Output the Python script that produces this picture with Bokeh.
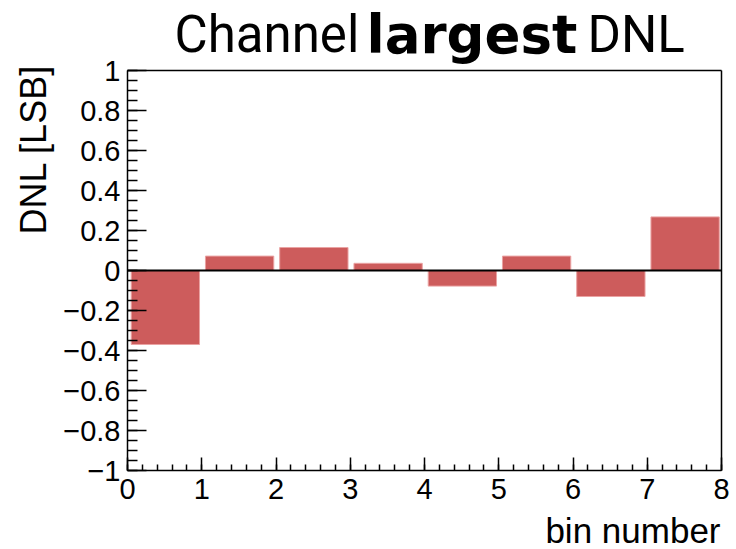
import numpy as np
from bokeh.plotting import figure
from bokeh.models import (Range1d, SingleIntervalTicker, FixedTicker, CustomJSTickFormatter,
                          Label, ColumnDataSource, LinearAxis)
from bokeh.embed import file_html
from bokeh.resources import INLINE

# ---- data ----
bins = [0, 1, 2, 3, 4, 5, 6, 7]
dnl = [-0.37, 0.072, 0.115, 0.036, -0.078, 0.072, -0.13, 0.268]
x_tick_labels = ["0", "1", "2", "3", "4", "5", "6", "7", "8"]
title_parts = ["Channel", "largest", "DNL"]
y_title = "DNL [LSB]"
x_title = "bin number"

x_lo, x_hi = 0, 8
y_lo, y_hi = -1, 1

bar_offset = 0.05
bar_width = 0.92

# pixel geometry of the visible plot box inside the 736x549 canvas
W, H = 736, 549
FL, FR, FT, FB = 127, 721, 70, 470
sx = (FR - FL) / (x_hi - x_lo)
sy = (FB - FT) / (y_hi - y_lo)

src = ColumnDataSource(dict(
    left=[b + bar_offset for b in bins],
    right=[b + bar_offset + bar_width for b in bins],
    top=[max(v, 0) for v in dnl],
    bottom=[min(v, 0) for v in dnl],
))

p = figure(width=W, height=H, output_backend="svg", toolbar_location=None,
           x_range=Range1d(x_lo - FL / sx, x_hi + (W - FR) / sx),
           y_range=Range1d(y_lo - (H - FB) / sy, y_hi + FT / sy),
           x_axis_location=None, y_axis_location=None,
           min_border_left=0, min_border_right=0,
           min_border_top=0, min_border_bottom=0)
p.background_fill_color = "white"
p.border_fill_color = "white"
p.outline_line_color = None
p.grid.visible = False

p.quad(left="left", right="right", top="top", bottom="bottom", source=src,
       fill_color="#cd5c5c", line_color="#eaa3a3", line_width=1)

y_fmt = CustomJSTickFormatter(code="""
if (Math.abs(tick) < 1e-9) return "0";
var s = String(Math.round(tick*10)/10);
return s.replace("-", "\u2212");
""")
x_fmt = CustomJSTickFormatter(args=dict(labels=x_tick_labels),
                              code="var i = Math.round(tick); return (i >= 0 && i < labels.length) ? labels[i] : String(i);")


def style(ax, lw=1.5):
    ax.axis_line_color = "black"
    ax.axis_line_width = lw
    ax.major_tick_line_color = "black"
    ax.minor_tick_line_color = "black"
    ax.major_tick_line_width = 1.5
    ax.minor_tick_line_width = 1.5
    ax.major_tick_out = 0
    ax.minor_tick_out = 0
    ax.major_label_text_font = "Liberation Sans"
    ax.major_label_text_font_size = "29px"
    ax.major_label_text_color = "black"


yaxis = LinearAxis(fixed_location=x_lo, bounds=(y_lo, y_hi),
                   ticker=SingleIntervalTicker(interval=0.2, num_minor_ticks=4),
                   formatter=y_fmt)
style(yaxis)
yaxis.major_tick_in = 19
yaxis.minor_tick_in = 10
yaxis.major_label_standoff = 7
p.add_layout(yaxis, "left")

xaxis = LinearAxis(fixed_location=y_lo, bounds=(x_lo, x_hi),
                   ticker=SingleIntervalTicker(interval=1, num_minor_ticks=5),
                   formatter=x_fmt)
style(xaxis)
xaxis.major_tick_in = 13
xaxis.minor_tick_in = 6
xaxis.major_label_standoff = 8
p.add_layout(xaxis, "below")

# frame borders (top/right) and zero line as plain axes without ticks
for loc, place, bnds, lw in [(y_hi, "above", (x_lo, x_hi), 1.5),
                             (x_hi, "right", (y_lo, y_hi), 1.5),
                             (0, "below", (x_lo, x_hi), 2)]:
    ax = LinearAxis(fixed_location=loc, bounds=bnds, ticker=FixedTicker(ticks=[]))
    ax.axis_line_color = "black"
    ax.axis_line_width = lw
    ax.major_tick_in = 0
    ax.major_tick_out = 0
    ax.minor_tick_in = 0
    ax.minor_tick_out = 0
    ax.major_label_text_font_size = "0px"
    p.add_layout(ax, place)


def dx(px):
    return x_lo + (px - FL) / sx


def dy(py):
    return y_hi - (py - FT) / sy


# title in three pieces (normal / bold / normal)
p.add_layout(Label(x=dx(174), y=dy(34), text=title_parts[0], text_font="Roboto",
                   text_font_size="51px", text_align="left", text_baseline="alphabetic",
                   text_color="black"))
p.add_layout(Label(x=dx(366), y=dy(34), text=title_parts[1], text_font="DejaVu Sans",
                   text_font_style="bold", text_font_size="53px", text_align="left",
                   text_baseline="alphabetic", text_color="black"))
p.add_layout(Label(x=dx(587), y=dy(34), text=title_parts[2], text_font="Roboto",
                   text_font_size="51px", text_align="left", text_baseline="alphabetic",
                   text_color="black"))

# axis titles
p.add_layout(Label(x=dx(33), y=dy(64), text=y_title, text_font="Liberation Sans",
                   text_font_size="36px", angle=np.pi / 2, text_align="right",
                   text_baseline="alphabetic", text_color="black"))
p.add_layout(Label(x=dx(720), y=dy(530), text=x_title, text_font="Liberation Sans",
                   text_font_size="35px", text_align="right",
                   text_baseline="alphabetic", text_color="black"))

open("out.html", "w").write(file_html(p, INLINE))
